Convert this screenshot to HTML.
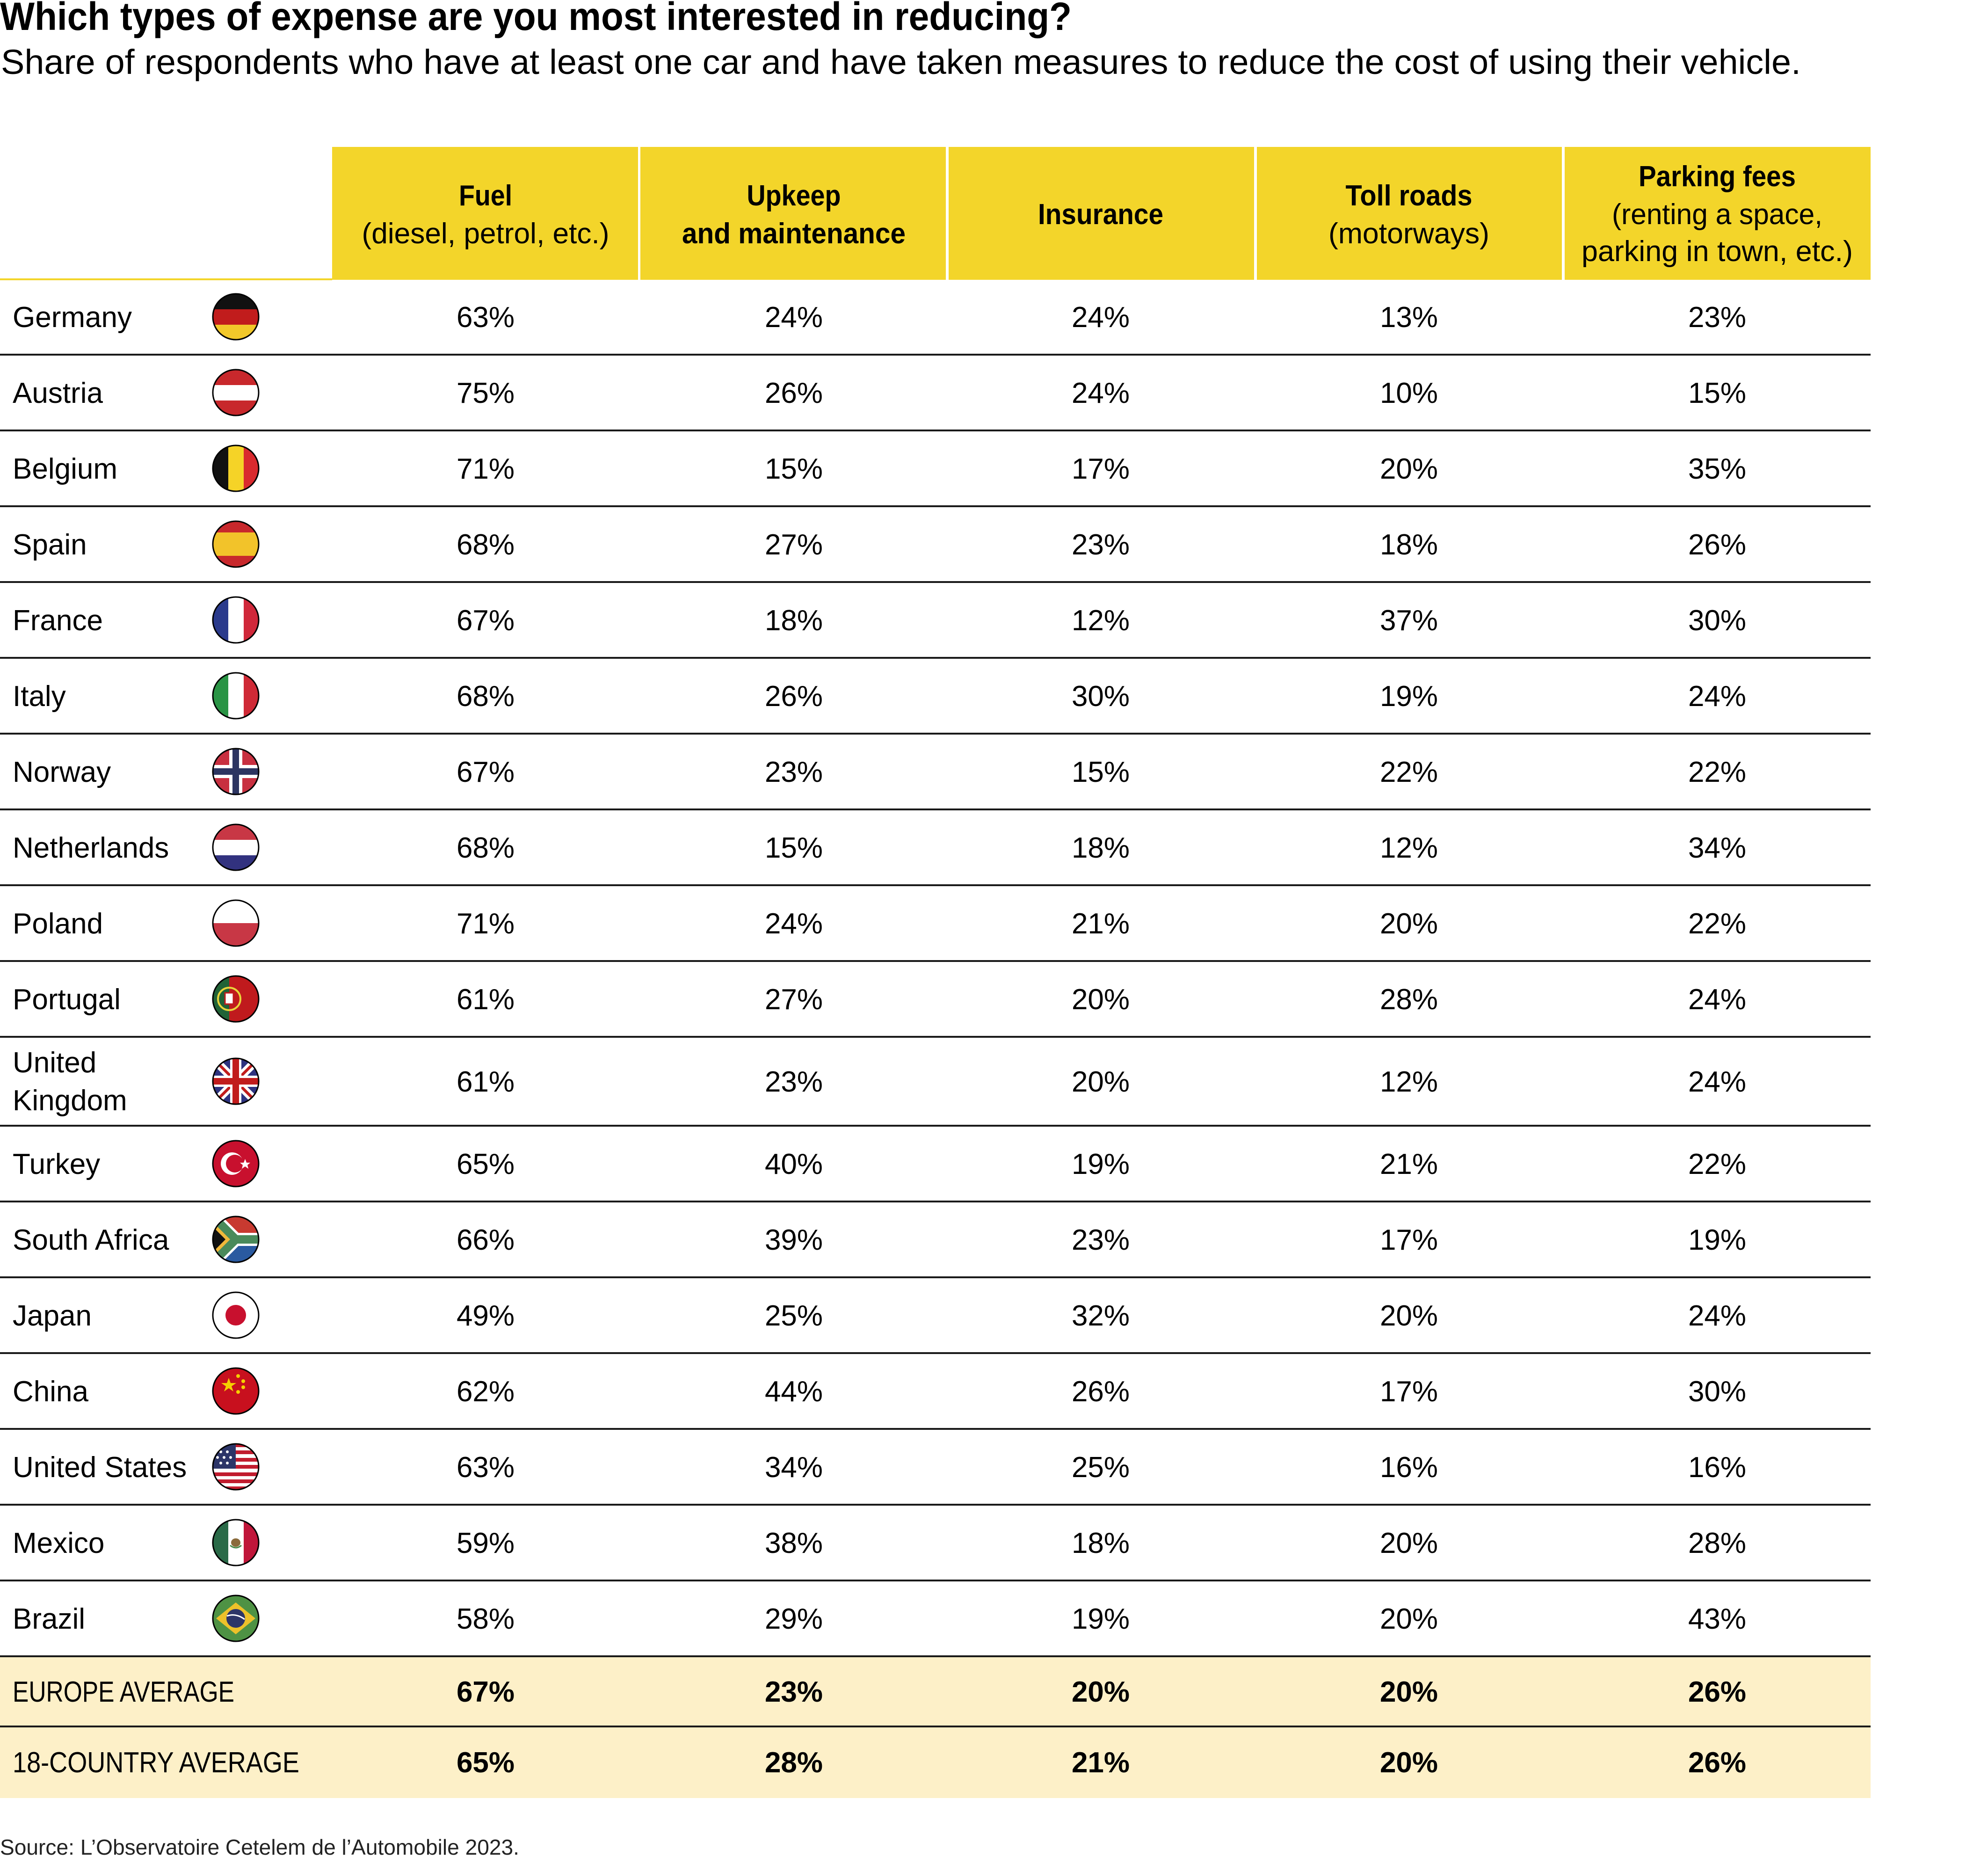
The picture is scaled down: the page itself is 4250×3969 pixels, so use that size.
<!DOCTYPE html>
<html><head><meta charset="utf-8"><style>html,body{margin:0;padding:0;background:#fff}svg{display:block}</style></head>
<body>
<svg xmlns="http://www.w3.org/2000/svg" width="4250" height="3969" viewBox="0 0 4250 3969" font-family="'Liberation Sans', sans-serif">
<defs><clipPath id="c"><circle cx="50" cy="50" r="49"/></clipPath></defs>
<rect width="4250" height="3969" fill="#fff"/>
<text x="0" y="64" font-size="84" font-weight="bold" textLength="2291" lengthAdjust="spacingAndGlyphs">Which types of expense are you most interested in reducing?</text>
<text x="2" y="158" font-size="74" textLength="3848" lengthAdjust="spacingAndGlyphs">Share of respondents who have at least one car and have taken measures to reduce the cost of using their vehicle.</text>
<g fill="#f3d52a">
<rect x="710" y="314" width="654" height="284"/><rect x="1369" y="314" width="653" height="284"/><rect x="2028" y="314" width="653" height="284"/><rect x="2687" y="314" width="652" height="284"/><rect x="3345" y="314" width="654" height="284"/>
</g>
<rect x="0" y="595" width="710" height="4" fill="#f3d52a"/>
<g font-size="62" text-anchor="middle" fill="#000">
<text x="1038" y="439" font-weight="bold" textLength="114" lengthAdjust="spacingAndGlyphs">Fuel</text>
<text x="1038" y="520" textLength="529" lengthAdjust="spacingAndGlyphs">(diesel, petrol, etc.)</text>
<text x="1697" y="439" font-weight="bold" textLength="201" lengthAdjust="spacingAndGlyphs">Upkeep</text>
<text x="1697" y="520" font-weight="bold" textLength="478" lengthAdjust="spacingAndGlyphs">and maintenance</text>
<text x="2353" y="479" font-weight="bold" textLength="268" lengthAdjust="spacingAndGlyphs">Insurance</text>
<text x="3012" y="439" font-weight="bold" textLength="271" lengthAdjust="spacingAndGlyphs">Toll roads</text>
<text x="3012" y="520" textLength="344" lengthAdjust="spacingAndGlyphs">(motorways)</text>
<text x="3671" y="398" font-weight="bold" textLength="336" lengthAdjust="spacingAndGlyphs">Parking fees</text>
<text x="3671" y="479" textLength="450" lengthAdjust="spacingAndGlyphs">(renting a space,</text>
<text x="3671" y="558" textLength="580" lengthAdjust="spacingAndGlyphs">parking in town, etc.)</text>
</g>
<rect x="0" y="3540" width="3999" height="303" fill="#fdf0c8"/>
<g stroke="#1a1a1a" stroke-width="4">
<line x1="0" x2="3999" y1="758" y2="758"/><line x1="0" x2="3999" y1="920" y2="920"/><line x1="0" x2="3999" y1="1082" y2="1082"/><line x1="0" x2="3999" y1="1244" y2="1244"/><line x1="0" x2="3999" y1="1406" y2="1406"/><line x1="0" x2="3999" y1="1568" y2="1568"/><line x1="0" x2="3999" y1="1730" y2="1730"/><line x1="0" x2="3999" y1="1892" y2="1892"/><line x1="0" x2="3999" y1="2054" y2="2054"/><line x1="0" x2="3999" y1="2216" y2="2216"/><line x1="0" x2="3999" y1="2406" y2="2406"/><line x1="0" x2="3999" y1="2568" y2="2568"/><line x1="0" x2="3999" y1="2730" y2="2730"/><line x1="0" x2="3999" y1="2892" y2="2892"/><line x1="0" x2="3999" y1="3054" y2="3054"/><line x1="0" x2="3999" y1="3216" y2="3216"/><line x1="0" x2="3999" y1="3378" y2="3378"/><line x1="0" x2="3999" y1="3540" y2="3540"/><line x1="0" x2="3999" y1="3690" y2="3690"/>
</g>
<g font-size="62" fill="#000">
<text x="27" y="699">Germany</text>
<text x="27" y="861">Austria</text>
<text x="27" y="1023">Belgium</text>
<text x="27" y="1185">Spain</text>
<text x="27" y="1347">France</text>
<text x="27" y="1509">Italy</text>
<text x="27" y="1671">Norway</text>
<text x="27" y="1833">Netherlands</text>
<text x="27" y="1995">Poland</text>
<text x="27" y="2157">Portugal</text>
<text x="27" y="2292">United</text>
<text x="27" y="2373">Kingdom</text>
<text x="27" y="2509">Turkey</text>
<text x="27" y="2671">South Africa</text>
<text x="27" y="2833">Japan</text>
<text x="27" y="2995">China</text>
<text x="27" y="3157">United States</text>
<text x="27" y="3319">Mexico</text>
<text x="27" y="3481">Brazil</text>
<text x="27" y="3637" textLength="474" lengthAdjust="spacingAndGlyphs">EUROPE AVERAGE</text>
<text x="27" y="3788" textLength="613" lengthAdjust="spacingAndGlyphs">18-COUNTRY AVERAGE</text>
</g>
<g font-size="62" fill="#000" text-anchor="middle">
<text x="1038" y="699">63%</text><text x="1697" y="699">24%</text><text x="2353" y="699">24%</text><text x="3012" y="699">13%</text><text x="3671" y="699">23%</text>
<text x="1038" y="861">75%</text><text x="1697" y="861">26%</text><text x="2353" y="861">24%</text><text x="3012" y="861">10%</text><text x="3671" y="861">15%</text>
<text x="1038" y="1023">71%</text><text x="1697" y="1023">15%</text><text x="2353" y="1023">17%</text><text x="3012" y="1023">20%</text><text x="3671" y="1023">35%</text>
<text x="1038" y="1185">68%</text><text x="1697" y="1185">27%</text><text x="2353" y="1185">23%</text><text x="3012" y="1185">18%</text><text x="3671" y="1185">26%</text>
<text x="1038" y="1347">67%</text><text x="1697" y="1347">18%</text><text x="2353" y="1347">12%</text><text x="3012" y="1347">37%</text><text x="3671" y="1347">30%</text>
<text x="1038" y="1509">68%</text><text x="1697" y="1509">26%</text><text x="2353" y="1509">30%</text><text x="3012" y="1509">19%</text><text x="3671" y="1509">24%</text>
<text x="1038" y="1671">67%</text><text x="1697" y="1671">23%</text><text x="2353" y="1671">15%</text><text x="3012" y="1671">22%</text><text x="3671" y="1671">22%</text>
<text x="1038" y="1833">68%</text><text x="1697" y="1833">15%</text><text x="2353" y="1833">18%</text><text x="3012" y="1833">12%</text><text x="3671" y="1833">34%</text>
<text x="1038" y="1995">71%</text><text x="1697" y="1995">24%</text><text x="2353" y="1995">21%</text><text x="3012" y="1995">20%</text><text x="3671" y="1995">22%</text>
<text x="1038" y="2157">61%</text><text x="1697" y="2157">27%</text><text x="2353" y="2157">20%</text><text x="3012" y="2157">28%</text><text x="3671" y="2157">24%</text>
<text x="1038" y="2333">61%</text><text x="1697" y="2333">23%</text><text x="2353" y="2333">20%</text><text x="3012" y="2333">12%</text><text x="3671" y="2333">24%</text>
<text x="1038" y="2509">65%</text><text x="1697" y="2509">40%</text><text x="2353" y="2509">19%</text><text x="3012" y="2509">21%</text><text x="3671" y="2509">22%</text>
<text x="1038" y="2671">66%</text><text x="1697" y="2671">39%</text><text x="2353" y="2671">23%</text><text x="3012" y="2671">17%</text><text x="3671" y="2671">19%</text>
<text x="1038" y="2833">49%</text><text x="1697" y="2833">25%</text><text x="2353" y="2833">32%</text><text x="3012" y="2833">20%</text><text x="3671" y="2833">24%</text>
<text x="1038" y="2995">62%</text><text x="1697" y="2995">44%</text><text x="2353" y="2995">26%</text><text x="3012" y="2995">17%</text><text x="3671" y="2995">30%</text>
<text x="1038" y="3157">63%</text><text x="1697" y="3157">34%</text><text x="2353" y="3157">25%</text><text x="3012" y="3157">16%</text><text x="3671" y="3157">16%</text>
<text x="1038" y="3319">59%</text><text x="1697" y="3319">38%</text><text x="2353" y="3319">18%</text><text x="3012" y="3319">20%</text><text x="3671" y="3319">28%</text>
<text x="1038" y="3481">58%</text><text x="1697" y="3481">29%</text><text x="2353" y="3481">19%</text><text x="3012" y="3481">20%</text><text x="3671" y="3481">43%</text>
<g font-weight="bold">
<text x="1038" y="3637">67%</text><text x="1697" y="3637">23%</text><text x="2353" y="3637">20%</text><text x="3012" y="3637">20%</text><text x="3671" y="3637">26%</text>
<text x="1038" y="3788">65%</text><text x="1697" y="3788">28%</text><text x="2353" y="3788">21%</text><text x="3012" y="3788">20%</text><text x="3671" y="3788">26%</text>
</g>
</g>
<g transform="translate(454,627)"><g clip-path="url(#c)"><rect width="100" height="34" fill="#111"/><rect y="34" width="100" height="33" fill="#c11c1c"/><rect y="67" width="100" height="33" fill="#f2c82a"/></g><circle cx="50" cy="50" r="49" fill="none" stroke="#000" stroke-width="3"/></g>
<g transform="translate(454,789)"><g clip-path="url(#c)"><rect width="100" height="100" fill="#c8282c"/><rect y="34" width="100" height="33" fill="#fff"/></g><circle cx="50" cy="50" r="49" fill="none" stroke="#000" stroke-width="3"/></g>
<g transform="translate(454,951)"><g clip-path="url(#c)"><rect width="34" height="100" fill="#111"/><rect x="34" width="33" height="100" fill="#f5d327"/><rect x="67" width="33" height="100" fill="#d92a2e"/></g><circle cx="50" cy="50" r="49" fill="none" stroke="#000" stroke-width="3"/></g>
<g transform="translate(454,1113)"><g clip-path="url(#c)"><rect width="100" height="100" fill="#c8282c"/><rect y="25" width="100" height="50" fill="#f2c32a"/></g><circle cx="50" cy="50" r="49" fill="none" stroke="#000" stroke-width="3"/></g>
<g transform="translate(454,1275)"><g clip-path="url(#c)"><rect width="34" height="100" fill="#2a3a8c"/><rect x="34" width="33" height="100" fill="#fff"/><rect x="67" width="33" height="100" fill="#d0283a"/></g><circle cx="50" cy="50" r="49" fill="none" stroke="#000" stroke-width="3"/></g>
<g transform="translate(454,1437)"><g clip-path="url(#c)"><rect width="34" height="100" fill="#2a9445"/><rect x="34" width="33" height="100" fill="#fff"/><rect x="67" width="33" height="100" fill="#cf2a36"/></g><circle cx="50" cy="50" r="49" fill="none" stroke="#000" stroke-width="3"/></g>
<g transform="translate(454,1599)"><g clip-path="url(#c)"><rect width="100" height="100" fill="#c83040"/><rect x="36" width="28" height="100" fill="#fff"/><rect y="36" width="100" height="28" fill="#fff"/><rect x="43" width="14" height="100" fill="#2c3561"/><rect y="43" width="100" height="14" fill="#2c3561"/></g><circle cx="50" cy="50" r="49" fill="none" stroke="#000" stroke-width="3"/></g>
<g transform="translate(454,1761)"><g clip-path="url(#c)"><rect width="100" height="34" fill="#c83745"/><rect y="34" width="100" height="33" fill="#fff"/><rect y="67" width="100" height="33" fill="#32327f"/></g><circle cx="50" cy="50" r="49" fill="none" stroke="#000" stroke-width="3"/></g>
<g transform="translate(454,1923)"><g clip-path="url(#c)"><rect width="100" height="50" fill="#fff"/><rect y="50" width="100" height="50" fill="#c83745"/></g><circle cx="50" cy="50" r="49" fill="none" stroke="#000" stroke-width="3"/></g>
<g transform="translate(454,2085)"><g clip-path="url(#c)"><rect width="36" height="100" fill="#216337"/><rect x="36" width="64" height="100" fill="#c01a1d"/><circle cx="36" cy="50" r="24" fill="none" stroke="#e8d43a" stroke-width="4"/><rect x="27" y="37" width="18" height="24" fill="#fff" stroke="#c01a1d" stroke-width="3"/></g><circle cx="50" cy="50" r="49" fill="none" stroke="#000" stroke-width="3"/></g>
<g transform="translate(454,2261)"><g clip-path="url(#c)"><rect width="100" height="100" fill="#2e3380"/><path d="M0 0L100 100M100 0L0 100" stroke="#fff" stroke-width="18"/><path d="M0 0L100 100M100 0L0 100" stroke="#c11c1c" stroke-width="6"/><rect x="38" width="24" height="100" fill="#fff"/><rect y="38" width="100" height="24" fill="#fff"/><rect x="43" width="14" height="100" fill="#c11c1c"/><rect y="43" width="100" height="14" fill="#c11c1c"/></g><circle cx="50" cy="50" r="49" fill="none" stroke="#000" stroke-width="3"/></g>
<g transform="translate(454,2437)"><g clip-path="url(#c)"><rect width="100" height="100" fill="#c8102e"/><circle cx="42" cy="50" r="24" fill="#fff"/><circle cx="48" cy="50" r="19" fill="#c8102e"/><polygon points="70,40 73,48 81,48 75,53 77,61 70,56 63,61 65,53 59,48 67,48" fill="#fff"/></g><circle cx="50" cy="50" r="49" fill="none" stroke="#000" stroke-width="3"/></g>
<g transform="translate(454,2599)"><g clip-path="url(#c)"><rect width="100" height="50" fill="#c83a30"/><rect y="50" width="100" height="50" fill="#2a5aa0"/><path d="M0 0L50 50L0 100Z" fill="#fff"/><path d="M0 0L50 50L100 50" stroke="#fff" stroke-width="28" fill="none"/><path d="M0 100L50 50" stroke="#fff" stroke-width="28"/><path d="M0 0L50 50L100 50M0 100L50 50" stroke="#4a8a5a" stroke-width="18" fill="none"/><path d="M0 12L38 50L0 88Z" fill="#f0b83a"/><path d="M0 22L28 50L0 78Z" fill="#111"/></g><circle cx="50" cy="50" r="49" fill="none" stroke="#000" stroke-width="3"/></g>
<g transform="translate(454,2761)"><g clip-path="url(#c)"><rect width="100" height="100" fill="#fff"/><circle cx="50" cy="50" r="22" fill="#c8102e"/></g><circle cx="50" cy="50" r="49" fill="none" stroke="#000" stroke-width="3"/></g>
<g transform="translate(454,2923)"><g clip-path="url(#c)"><rect width="100" height="100" fill="#c8101e"/><polygon points="35,22 39,33 51,33 41,40 45,51 35,44 25,51 29,40 19,33 31,33" fill="#f5d000"/><circle cx="55" cy="18" r="4" fill="#f5d000"/><circle cx="66" cy="29" r="4" fill="#f5d000"/><circle cx="66" cy="42" r="4" fill="#f5d000"/><circle cx="55" cy="52" r="4" fill="#f5d000"/></g><circle cx="50" cy="50" r="49" fill="none" stroke="#000" stroke-width="3"/></g>
<g transform="translate(454,3085)"><g clip-path="url(#c)"><rect width="100" height="100" fill="#fff"/><g fill="#c11c2e"><rect y="0" width="100" height="8"/><rect y="15" width="100" height="8"/><rect y="31" width="100" height="8"/><rect y="46" width="100" height="8"/><rect y="62" width="100" height="8"/><rect y="77" width="100" height="8"/><rect y="92" width="100" height="8"/></g><rect width="50" height="54" fill="#2c3568"/><g fill="#fff"><circle cx="18" cy="18" r="3"/><circle cx="32" cy="18" r="3"/><circle cx="25" cy="30" r="3"/><circle cx="11" cy="30" r="3"/><circle cx="39" cy="30" r="3"/><circle cx="18" cy="42" r="3"/><circle cx="32" cy="42" r="3"/></g></g><circle cx="50" cy="50" r="49" fill="none" stroke="#000" stroke-width="3"/></g>
<g transform="translate(454,3247)"><g clip-path="url(#c)"><rect width="34" height="100" fill="#2a6a48"/><rect x="34" width="33" height="100" fill="#fff"/><rect x="67" width="33" height="100" fill="#c0163a"/><ellipse cx="50" cy="50" rx="10" ry="9" fill="#8a6a3a"/><path d="M38 56Q50 66 62 56" stroke="#4a8a4a" stroke-width="3" fill="none"/></g><circle cx="50" cy="50" r="49" fill="none" stroke="#000" stroke-width="3"/></g>
<g transform="translate(454,3409)"><g clip-path="url(#c)"><rect width="100" height="100" fill="#4e9244"/><polygon points="50,16 92,50 50,84 8,50" fill="#ecc12a"/><circle cx="50" cy="50" r="20" fill="#2c3568"/><path d="M31 45Q50 38 69 52" stroke="#fff" stroke-width="3" fill="none"/></g><circle cx="50" cy="50" r="49" fill="none" stroke="#000" stroke-width="3"/></g>
<text x="0" y="3964" font-size="46" fill="#222" textLength="1110" lengthAdjust="spacingAndGlyphs">Source: L’Observatoire Cetelem de l’Automobile 2023.</text>
</svg>
</body></html>
